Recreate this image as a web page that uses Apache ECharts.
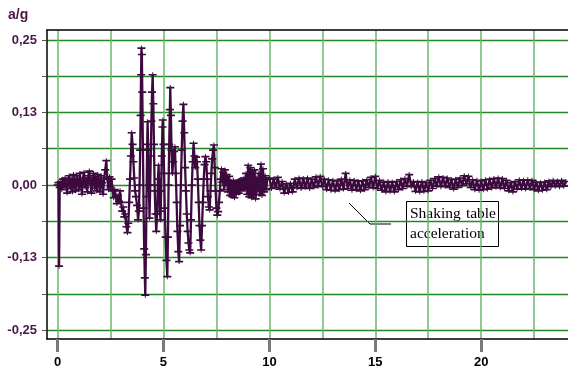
<!DOCTYPE html>
<html><head><meta charset="utf-8">
<script src="https://cdn.jsdelivr.net/npm/echarts@6/dist/echarts.min.js"></script>
<style>html,body{margin:0;padding:0;background:#fff}#c{width:568px;height:370px}</style>
</head><body><div id="c"></div>
<script>
// time (s), acceleration (g)
const quietStart = [[0.00,0.000],[0.04,0.004],[0.07,-0.140],[0.10,-0.004],[0.15,0.006],[0.20,-0.008],[0.25,0.010],[0.30,-0.004],[0.35,0.012],[0.40,0.000],[0.45,-0.014],[0.50,0.008],[0.55,0.016],[0.60,-0.006],[0.65,0.010],[0.70,-0.012],[0.75,0.018],[0.80,0.004],[0.85,-0.010],[0.90,0.016],[0.95,0.006],[1.00,-0.008],[1.05,0.020],[1.10,0.002],[1.15,-0.016],[1.20,0.012],[1.25,0.022],[1.30,-0.004],[1.35,0.010],[1.40,-0.012],[1.45,0.016],[1.50,0.024],[1.55,0.002],[1.60,-0.014],[1.65,0.012],[1.70,0.020],[1.75,-0.006],[1.80,0.014],[1.85,-0.010],[1.90,0.018],[1.95,0.006],[2.00,-0.012],[2.05,0.016],[2.10,0.004],[2.15,-0.016],[2.20,0.012],[2.25,0.026],[2.30,0.042],[2.35,0.010],[2.40,-0.008],[2.45,0.014],[2.50,-0.004],[2.55,0.010],[2.60,-0.010],[2.65,-0.022],[2.70,-0.008],[2.75,-0.020],[2.80,-0.032],[2.85,-0.018],[2.90,-0.028],[2.95,-0.010]];
const strongMotion = [[3.00,-0.030],[3.05,-0.045],[3.10,-0.038],[3.15,-0.055],[3.20,-0.050],[3.25,-0.072],[3.30,-0.082],[3.34,-0.066],[3.38,-0.030],[3.42,0.010],[3.46,0.050],[3.50,0.090],[3.54,0.070],[3.58,0.040],[3.62,0.012],[3.66,-0.010],[3.70,-0.020],[3.75,-0.035],[3.80,-0.060],[3.84,-0.045],[3.87,0.000],[3.90,0.060],[3.92,0.120],[3.94,0.190],[3.96,0.236],[3.98,0.225],[4.00,0.160],[4.03,0.060],[4.06,-0.040],[4.09,-0.110],[4.12,-0.160],[4.14,-0.190],[4.17,-0.120],[4.20,-0.020],[4.23,0.070],[4.25,0.109],[4.28,0.060],[4.31,0.000],[4.34,-0.057],[4.37,-0.010],[4.40,0.050],[4.43,0.110],[4.46,0.160],[4.49,0.190],[4.52,0.140],[4.55,0.070],[4.58,0.000],[4.62,-0.050],[4.66,-0.080],[4.70,-0.050],[4.74,0.010],[4.77,0.034],[4.80,-0.010],[4.83,-0.045],[4.86,-0.060],[4.89,-0.010],[4.92,0.050],[4.95,0.100],[4.97,0.112],[5.00,0.070],[5.03,0.020],[5.06,-0.040],[5.10,-0.090],[5.14,-0.130],[5.18,-0.158],[5.21,-0.090],[5.24,0.000],[5.27,0.070],[5.30,0.130],[5.32,0.168],[5.35,0.120],[5.38,0.060],[5.42,0.020],[5.46,0.040],[5.50,0.058],[5.54,0.066],[5.58,0.020],[5.62,-0.030],[5.66,-0.080],[5.70,-0.115],[5.74,-0.132],[5.78,-0.070],[5.82,0.000],[5.86,0.060],[5.90,0.110],[5.94,0.139],[5.98,0.090],[6.02,0.030],[6.06,-0.010],[6.10,-0.050],[6.14,-0.080],[6.18,-0.100],[6.22,-0.112],[6.26,-0.117],[6.30,-0.060],[6.34,0.000],[6.38,0.040],[6.42,0.072],[6.46,0.050],[6.50,0.030],[6.54,0.048],[6.58,0.040],[6.62,0.010],[6.66,-0.030],[6.70,-0.070],[6.74,-0.095],[6.78,-0.112],[6.82,-0.070],[6.86,-0.030],[6.90,0.010],[6.94,0.035],[6.98,0.049],[7.02,0.040],[7.06,0.010],[7.10,-0.020],[7.14,-0.038],[7.18,-0.043],[7.22,-0.010],[7.26,0.020],[7.30,0.045],[7.34,0.060],[7.38,0.069],[7.42,0.030],[7.46,-0.010],[7.50,-0.040],[7.54,-0.052],[7.58,-0.046],[7.62,-0.030],[7.66,-0.010],[7.70,0.010],[7.74,0.028],[7.78,0.005],[7.82,0.022],[7.86,-0.008],[7.90,0.026],[7.94,0.000],[7.98,0.018]];
const coda = [[8.05,-0.012],[8.10,0.015],[8.15,-0.018],[8.20,0.006],[8.25,-0.020],[8.30,0.008],[8.35,-0.022],[8.40,0.004],[8.45,-0.016],[8.50,0.006],[8.55,-0.014],[8.60,0.008],[8.65,-0.010],[8.70,0.010],[8.75,-0.006],[8.80,0.012],[8.85,-0.008],[8.90,0.020],[8.95,-0.016],[9.00,0.034],[9.05,-0.020],[9.10,0.030],[9.15,-0.022],[9.20,0.024],[9.25,-0.018],[9.30,0.026],[9.35,-0.024],[9.40,0.012],[9.45,-0.010],[9.50,0.020],[9.55,-0.016],[9.60,0.036],[9.65,-0.018],[9.70,0.028],[9.75,-0.012],[9.80,0.016],[9.85,-0.008],[9.90,0.010],
[10.0,0.012],[10.1,-0.006],[10.2,0.010],[10.3,-0.004],[10.4,0.013],[10.5,-0.007],[10.6,0.006],[10.7,-0.014],[10.8,0.002],[10.9,-0.013],[11.0,0.003],[11.1,-0.012],[11.2,0.010],[11.3,-0.005],[11.4,0.012],[11.5,-0.006],[11.6,0.011],[11.7,-0.004],[11.8,0.012],[11.9,-0.006],[12.0,0.010],[12.1,-0.004],[12.2,0.014],[12.3,-0.002],[12.4,0.015],[12.5,-0.003],[12.6,0.010],[12.7,-0.008],[12.8,0.009],[12.9,-0.009],[13.0,0.008],[13.1,-0.010],[13.2,0.007],[13.3,-0.008],[13.4,0.010],[13.5,-0.007],[13.6,0.020],[13.7,-0.006],[13.8,0.009],[13.9,-0.009],[14.0,0.008],[14.1,-0.008],[14.2,0.006],[14.3,-0.010],[14.4,0.007],[14.5,-0.008],[14.6,0.009],[14.7,-0.004],[14.8,0.013],[14.9,-0.005],[15.0,0.015],[15.1,-0.006],[15.2,0.008],[15.3,-0.009],[15.4,0.005],[15.5,-0.012],[15.6,0.006],[15.7,-0.011],[15.8,0.005],[15.9,-0.012],[16.0,0.006],[16.1,-0.008],[16.2,0.009],[16.3,-0.006],[16.4,0.011],[16.5,-0.002],[16.6,0.018],[16.7,-0.003],[16.8,0.006],[16.9,-0.011],[17.0,0.005],[17.1,-0.012],[17.2,0.006],[17.3,-0.011],[17.4,0.004],[17.5,-0.010],[17.6,0.008],[17.7,-0.006],[17.8,0.011],[17.9,-0.002],[18.0,0.014],[18.1,-0.003],[18.2,0.013],[18.3,-0.002],[18.4,0.012],[18.5,-0.004],[18.6,0.009],[18.7,-0.007],[18.8,0.010],[18.9,-0.004],[19.0,0.012],[19.1,-0.001],[19.2,0.016],[19.3,0.002],[19.4,0.015],[19.5,-0.004],[19.6,0.009],[19.7,-0.008],[19.8,0.008],[19.9,-0.009],[20.0,0.007],[20.1,-0.008],[20.2,0.009],[20.3,-0.007],[20.4,0.010],[20.5,-0.005],[20.6,0.011],[20.7,-0.004],[20.8,0.012],[20.9,-0.005],[21.0,0.011],[21.1,-0.006],[21.2,0.008],[21.3,-0.010],[21.4,0.004],[21.5,-0.012],[21.6,0.006],[21.7,-0.007],[21.8,0.009],[21.9,-0.006],[22.0,0.008],[22.1,-0.007],[22.2,0.009],[22.3,-0.006],[22.4,0.008],[22.5,-0.008],[22.6,0.005],[22.7,-0.010],[22.8,0.004],[22.9,-0.009],[23.0,0.005],[23.1,-0.008],[23.2,0.007],[23.3,-0.003],[23.4,0.008],[23.5,-0.002],[23.6,0.007],[23.7,-0.003],[23.8,0.008],[23.9,-0.002],[24.0,0.006]];

const xTickValues = [0, 5, 10, 15, 20];
const xGridValues = [0, 2.5, 5, 7.5, 10, 12.5, 15, 17.5, 20, 22.5];
const yGridValues = [-0.25, -0.1875, -0.125, -0.0625, 0, 0.0625, 0.125, 0.1875, 0.25];
const yLabelValues = [-0.25, -0.125, 0, 0.125, 0.25];
const yLabelTexts = ['-0,25', '-0,13', '0,00', '0,13', '0,25'];
const yAxisTitle = 'a/g';
const annotationWords = ['Shaking', 'table', 'acceleration'];

const series = quietStart.concat(strongMotion, coda);
const purple = '#3c0a3e';
const sans = '"Liberation Sans", Arial, sans-serif';
const serif = '"Liberation Serif", "Times New Roman", serif';

const chart = echarts.init(document.getElementById('c'), null, {renderer: 'canvas'});
chart.setOption({
  animation: false,
  grid: {left: 47, right: 0, top: 30, bottom: 31},
  xAxis: [{
    type: 'value', min: -0.5, max: 24.1, position: 'bottom',
    axisLine: {show: true, onZero: false, lineStyle: {color: '#000', width: 1.5}},
    axisTick: {show: true, customValues: xTickValues, length: 13, lineStyle: {color: '#7a7a7a', width: 3}},
    axisLabel: {customValues: xTickValues, margin: 17, color: '#000', fontWeight: 'bold', fontSize: 13, fontFamily: sans},
    splitLine: {show: false}
  }, {
    type: 'value', min: -0.5, max: 24.1, position: 'top',
    axisLine: {show: true, onZero: false, lineStyle: {color: '#000', width: 1.5}},
    axisTick: {show: false, customValues: xGridValues},
    axisLabel: {show: false, customValues: xGridValues},
    splitLine: {show: true, lineStyle: {color: '#66ba66', width: 1.5}}
  }],
  yAxis: {
    type: 'value', min: -0.2655, max: 0.2672,
    axisLine: {show: true, onZero: false, lineStyle: {color: '#000', width: 1.5}},
    axisTick: {show: true, customValues: yGridValues, length: 5, lineStyle: {color: '#555'}},
    axisLabel: {
      customValues: yLabelValues, margin: 10, color: '#4a164a', fontWeight: 'bold', fontSize: 13, fontFamily: sans,
      formatter: function (v) {
        for (let i = 0; i < yLabelValues.length; i++) if (Math.abs(yLabelValues[i] - v) < 1e-6) return yLabelTexts[i];
        return '';
      }
    },
    splitLine: {show: true, lineStyle: {color: '#22882a', width: 1.4}}
  },
  series: [{
    type: 'line', xAxisIndex: 0, data: series,
    symbol: 'path://M0,3H16V6H0Z M7,0H9V9H7Z', symbolSize: [8, 5],
    itemStyle: {color: purple},
    lineStyle: {color: purple, width: 2.3},
    silent: true
  }],
  graphic: [
    {type: 'text', left: 8, top: 8, style: {text: yAxisTitle, fill: '#4a164a', font: 'bold 14px ' + sans}},
    {type: 'polyline', shape: {points: [[349, 203], [370, 224], [391, 224]]}, style: {stroke: '#000', lineWidth: 1, fill: null}},
    {type: 'rect', shape: {x: 406.5, y: 201.5, width: 92, height: 45}, style: {fill: '#fff', stroke: '#000', lineWidth: 1}},
    {type: 'text', x: 410, y: 214, style: {text: annotationWords[0], fill: '#000', font: '15.5px ' + serif, verticalAlign: 'middle'}},
    {type: 'text', x: 496, y: 214, style: {text: annotationWords[1], fill: '#000', font: '15.5px ' + serif, align: 'right', verticalAlign: 'middle'}},
    {type: 'text', x: 410, y: 234, style: {text: annotationWords[2], fill: '#000', font: '15.5px ' + serif, verticalAlign: 'middle'}}
  ]
});
</script>
</body></html>
